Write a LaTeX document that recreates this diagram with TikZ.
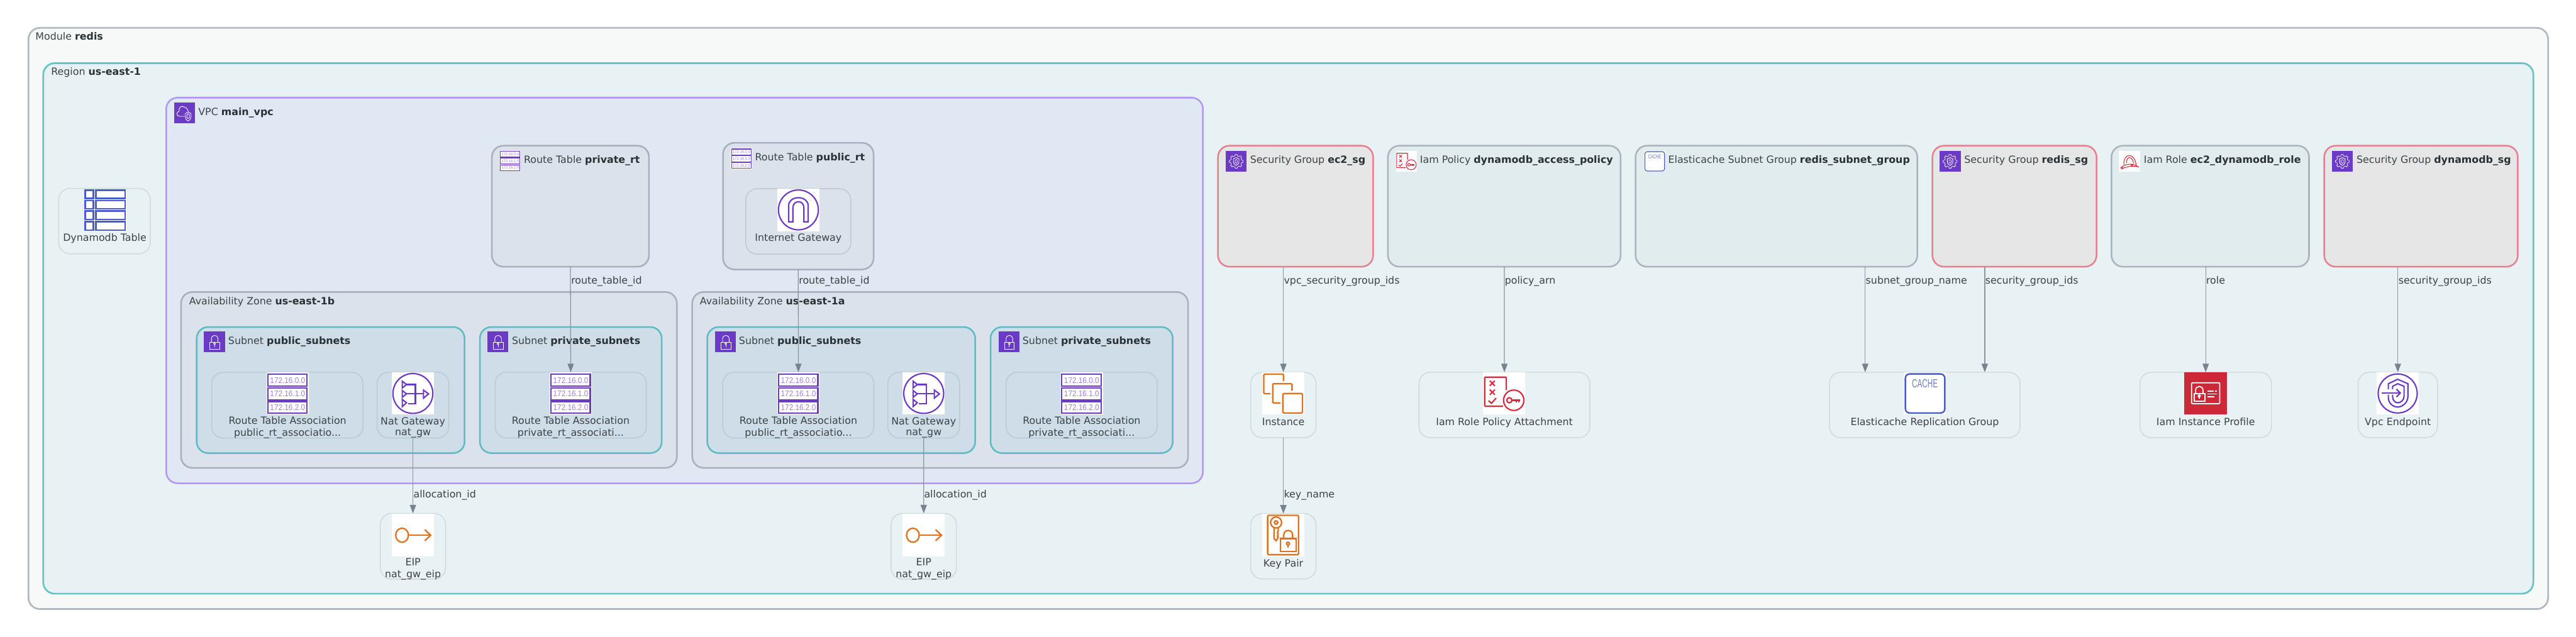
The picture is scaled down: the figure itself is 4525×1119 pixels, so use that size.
\documentclass[tikz,border=0pt]{standalone}
\usepackage{fontspec}
\setmainfont{DejaVu Sans}
\newfontfamily\icfont{Liberation Sans}
\usetikzlibrary{arrows.meta}
\definecolor{txt}{HTML}{3B4346}
\definecolor{txtb}{HTML}{2A3134}
\definecolor{purp}{HTML}{6B3AC7}
\definecolor{iorange}{HTML}{E2711D}
\definecolor{ired}{HTML}{D9293A}
\definecolor{iblue}{HTML}{4A5BD0}
\definecolor{edgec}{HTML}{8A959F}
\definecolor{tipc}{HTML}{77838F}
\newlength\icu
\newcounter{icn}
\def\UL{.3725pt}
\def\US{.185pt}
\newcommand{\bb}[1]{\textcolor{txtb}{\textbf{#1}}}
\newcommand{\ico}[4]{\begin{scope}[shift={(#1,#2)},x=#3,y=-#3]\setlength{\icu}{#3}#4\end{scope}}
\newcommand{\bx}[6]{\node[#2,anchor=north west,inner sep=0pt,outer sep=0pt,minimum width=\fpeval{(#5-#3)*0.5}pt,minimum height=\fpeval{(#6-#4)*0.5}pt] (#1) at (#3,#4) {};}
\tikzset{
  modbox/.style={draw=ADBc,fill=FMod,line width=1.5pt,rounded corners=10pt},
  regbox/.style={draw=RegS,fill=RegF,line width=1.5pt,rounded corners=10pt},
  vpcbox/.style={draw=VpcS,fill=VpcF,line width=1.4pt,rounded corners=10pt},
  grybox/.style={draw=GryS,fill=GryF,line width=1.4pt,rounded corners=10pt},
  subbox/.style={draw=SubS,fill=SubF,line width=1.4pt,rounded corners=10pt},
  sgbox/.style={draw=SgS,fill=SgF,line width=1.4pt,rounded corners=10pt},
  resbox/.style={draw=ResS,fill=ResF,line width=1.4pt,rounded corners=10pt},
  nodein/.style={draw=NdS,line width=.8pt,rounded corners=10pt},
  nodereg/.style={draw=NdR,line width=.8pt,rounded corners=10pt},
  lab/.style={anchor=base west,inner sep=0pt,text=txt,font=\fontsize{8.75pt}{9.35pt}\selectfont,yshift=-3.25pt},
  nlab/.style={anchor=base,inner sep=0pt,text=txt,font=\fontsize{8.75pt}{9.35pt}\selectfont,yshift=-3.25pt},
  nlab2/.style={anchor=center,align=center,inner sep=0pt,text=txt,font=\fontsize{8.75pt}{9.35pt}\selectfont},
  edge/.style={draw=edgec,line width=.7pt,-{Triangle[length=7.5pt,width=5.5pt,color=tipc]}},
  pl/.style={draw=purp,line width=3.2\icu},
  wl/.style={draw=white,line width=2.6\icu},
  ol/.style={draw=iorange,line width=3.4\icu},
  rl/.style={draw=ired,line width=3.2\icu},
  bl/.style={draw=iblue,line width=3.6\icu},
}
\definecolor{ADBc}{HTML}{B2B9C0}\definecolor{FMod}{HTML}{F7F9F8}
\definecolor{RegS}{HTML}{62C6C6}\definecolor{RegF}{HTML}{E8F1F3}
\definecolor{VpcS}{HTML}{B197F2}\definecolor{VpcF}{HTML}{E0E8F3}
\definecolor{GryS}{HTML}{A9B0BD}\definecolor{GryF}{HTML}{DBE2EC}
\definecolor{SubS}{HTML}{5CBCC4}\definecolor{SubF}{HTML}{CFDDE8}
\definecolor{SgS}{HTML}{E6808F}\definecolor{SgF}{HTML}{E6E6E6}
\definecolor{ResS}{HTML}{A9B5BD}\definecolor{ResF}{HTML}{E0ECEE}
\definecolor{NdS}{HTML}{BCC8D4}\definecolor{NdR}{HTML}{CCDADB}
% ---- icons, drawn in a 100x100 frame, y downwards
\newcommand{\ICrt}{\fill[white] (0,0) rectangle (100,100);
  \draw[pl] (3,5) rectangle (96,33);\draw[pl] (3,37) rectangle (96,65);\draw[pl] (3,69) rectangle (96,97);
  \foreach \yy/\tt in {19/172.16.0.0,51/172.16.1.0,83/172.16.2.0}{\stepcounter{icn}
    \node[inner sep=0pt,text=purp!65,xscale=.92,transform shape,font=\icfont\fontsize{19\icu}{19\icu}\selectfont] (rtip\arabic{icn}) at (50,\yy) {\tt};}}
\newcommand{\ICnat}{\fill[white] (0,0) rectangle (100,100);
  \draw[pl] (50,50) circle[radius=47];
  \draw[pl] (25,21) -- (35,29) -- (25,37) -- cycle;
  \draw[pl] (25,43) -- (35,51) -- (25,59) -- cycle;
  \draw[pl] (25,64) -- (35,72) -- (25,81) -- cycle;
  \draw[pl] (35,29) -- (56,29) -- (56,74) -- (39,74);
  \draw[pl] (35,51) -- (75,51);
  \draw[pl] (75,42) -- (87,51) -- (75,61) -- cycle;}
\newcommand{\ICeip}{\fill[white] (0,0) rectangle (100,100);
  \draw[ol] (24.5,50) circle[x radius=15,y radius=16.5];
  \draw[ol] (40,50) -- (91,50);
  \draw[ol] (78,37) -- (92,50) -- (78,63);}
\newcommand{\ICigw}{\fill[white] (0,0) rectangle (100,100);
  \draw[pl] (50,50) circle[radius=47];
  \draw[pl] (27,78) -- (27,40) .. controls (27,15) and (73,15) .. (73,40) -- (73,78) -- (63,78) -- (63,45) .. controls (63,26) and (37,26) .. (37,45) -- (37,78) -- cycle;}
\newcommand{\IClock}{\fill[purp] (0,0) rectangle (100,100);
  \draw[wl] (28,52) rectangle (75,84);
  \draw[wl] (36,52) -- (36,36) .. controls (36,14) and (67,14) .. (67,36) -- (67,52);
  \draw[wl] (51,59) circle[radius=4.5];\draw[wl] (51,63) -- (51,74);}
\newcommand{\ICvpc}{\fill[purp] (0,0) rectangle (100,100);
  \draw[wl] (50,66) -- (27,66) .. controls (10,66) and (8,46) .. (23,42) .. controls (20,24) and (36,12) .. (48,22) .. controls (58,24) and (65,34) .. (67,44);
  \draw[wl] (53,52) -- (66,46) -- (80,52) -- (80,70) .. controls (80,80) and (72,85) .. (66,88) .. controls (60,85) and (53,80) .. (53,70) -- cycle;
  \draw[wl] (66,54) .. controls (61,54) and (60,58) .. (60,62) -- (60,70) .. controls (60,78) and (72,78) .. (72,70) -- (72,62) .. controls (72,58) and (71,54) .. (66,54) -- cycle;}
\newcommand{\ICsg}{\fill[purp] (0,0) rectangle (100,100);
  \begin{scope}[shift={(50,50)}]
  \foreach \a in {0,45,...,315}{
    \draw[draw=white,line width=2\icu] (\a-12:27) -- (\a-8:33) -- (\a+8:33) -- (\a+12:27) -- (\a+33:27);}
  \end{scope}
  \draw[wl] (50,32) -- (63,38) -- (63,54) .. controls (63,62) and (55,67) .. (50,69) .. controls (45,67) and (37,62) .. (37,54) -- (37,38) -- cycle;
  \draw[draw=white,line width=2\icu] (50,41) .. controls (46,41) and (45,45) .. (45,48) -- (45,55) .. controls (45,61) and (55,61) .. (55,55) -- (55,48) .. controls (55,45) and (54,41) .. (50,41) -- cycle;}
\newcommand{\ICpol}{\fill[white] (0,0) rectangle (100,100);
  \draw[rl,rounded corners=1.5\icu] (55,42) -- (55,11.5) -- (4,11.5) -- (4,80) -- (47,80);
  \draw[rl] (16,20) -- (28,32) (28,20) -- (16,32);
  \draw[rl] (16,41) -- (28,53) (28,41) -- (16,53);
  \draw[rl] (13,67) -- (20,73) -- (31,61);
  \draw[rl] (72.5,66) circle[radius=24];
  \draw[rl] (62,66) circle[radius=6];
  \draw[rl] (68,66) -- (88,66) (78,66) -- (78,71) (84,66) -- (84,71);}
\newcommand{\ICcache}{\fill[white] (0,0) rectangle (100,100);
  \draw[bl,rounded corners=10\icu] (4,4) rectangle (97,96);
  \stepcounter{icn}
  \node[inner sep=0pt,text=iblue!80,xscale=.62,transform shape,font=\icfont\fontsize{28\icu}{28\icu}\selectfont] (cachetext\arabic{icn}) at (50,27) {CACHE};}
\newcommand{\ICrole}{\fill[white] (0,0) rectangle (100,100);
  \draw[rl] (24,66) .. controls (22,40) and (32,22) .. (50,22) .. controls (68,22) and (80,44) .. (82,70);
  \draw[rl] (36,58) .. controls (36,42) and (42,32) .. (50,32) .. controls (60,32) and (68,46) .. (70,60);
  \draw[rl] (12,78) .. controls (30,60) and (70,58) .. (92,76) .. controls (70,72) and (40,72) .. (18,84);
  \draw[rl] (14,81) circle[radius=5];\draw[rl] (62,68) circle[radius=4];}
\newcommand{\ICinst}{\fill[white] (0,0) rectangle (100,100);
  \draw[ol,rounded corners=2\icu] (19.5,50.5) -- (4,50.5) -- (4,4.5) -- (50.5,4.5) -- (50.5,21);
  \draw[ol,rounded corners=2\icu] (43,72.5) -- (25,72.5) -- (25,27) -- (70.5,27) -- (70.5,43.5);
  \draw[ol,rounded corners=2\icu] (49,50) rectangle (95,96);}
\newcommand{\ICkey}{\fill[white] (0,0) rectangle (100,100);
  \draw[ol,rounded corners=3\icu] (13,3) rectangle (86,96);
  \draw[ol] (33,20) circle[radius=13];\draw[ol] (33,20) circle[radius=4];
  \draw[ol] (28,32) -- (28,58) -- (33,63) -- (38,55) -- (36,52) -- (38,48) -- (36,44) -- (38,40) -- (38,32);
  \draw[ol] (43,58) rectangle (80,88);
  \draw[ol] (51,58) -- (51,50) .. controls (51,35) and (72,35) .. (72,50) -- (72,58);
  \draw[ol] (61,70) circle[radius=3.5];\draw[ol] (61,73) -- (61,79);}
\newcommand{\ICprof}{\fill[ired!95!black] (0,0) rectangle (100,100);
  \draw[wl,rounded corners=1.5\icu] (17,25) rectangle (83.5,74);
  \draw[wl] (23,50) rectangle (48,68);
  \draw[wl] (26.5,50) -- (26.5,43) .. controls (26.5,30) and (44,30) .. (44,43) -- (44,50);
  \draw[wl] (35,56) circle[radius=2.5];\draw[wl] (35,58) -- (35,63);
  \draw[wl] (54,45) -- (69,45) (73,45) -- (76,45) (54,51) -- (76,51) (54,57.5) -- (71,57.5);}
\newcommand{\ICvpce}{\fill[white] (0,0) rectangle (100,100);
  \draw[pl] (50,50) circle[radius=46];
  \draw[pl] (28,40) -- (28,27) -- (50,16.5) -- (74,27) -- (74,58) .. controls (74,72) and (60,82) .. (50,82) .. controls (38,82) and (28,72) .. (28,60) -- (28,53);
  \draw[pl] (38,40) -- (38,33) -- (50,27) -- (65,33) -- (65,56) .. controls (65,66) and (57,72) .. (50,72) .. controls (44,72) and (38,66) .. (38,58) -- (38,53);
  \draw[pl] (12,49) -- (55,49);\draw[pl] (47,40) -- (56,49) -- (47,58);}
\newcommand{\ICddb}{\fill[white] (0,0) rectangle (100,100);
  \foreach \ya/\yb in {3/22,27/47,52/72,77/97}{
    \draw[draw=iblue,line width=3.6\icu] (3,\ya) rectangle (22,\yb);
    \draw[draw=iblue,line width=3.6\icu] (28,\ya) rectangle (97,\yb);}}
\begin{document}
\begin{tikzpicture}[x=0.5pt,y=-0.5pt]
\useasboundingbox (0,0) rectangle (4525,1119);
\fill[white] (0,0) rectangle (4525,1119);
% clusters
\bx{module}{modbox}{50}{49}{4476}{1070}
\bx{region}{regbox}{76}{111}{4450}{1043}
\bx{vpc}{vpcbox}{292}{171.5}{2113}{849}
\bx{privatert}{grybox}{864}{256}{1140}{468.5}
\bx{publicrt}{grybox}{1270}{251}{1534.5}{473.4}
\bx{azb}{grybox}{318}{513}{1189}{822}
\bx{aza}{grybox}{1216}{513}{2087}{822}
\bx{subpubb}{subbox}{345.5}{574.5}{816}{796}
\bx{subprib}{subbox}{843}{574.5}{1162.4}{796}
\bx{subpuba}{subbox}{1242.4}{574.5}{1713}{796}
\bx{subpria}{subbox}{1740}{574.5}{2060}{796}
\bx{ecsg}{sgbox}{2139.5}{256}{2412}{468.5}
\bx{iampol}{resbox}{2438}{256}{2846.8}{468.5}
\bx{ecsub}{resbox}{2873}{256}{3368}{468.5}
\bx{redissg}{sgbox}{3394.5}{256}{3682.7}{468.5}
\bx{iamrole}{resbox}{3709}{256}{4056}{468.5}
\bx{ddbsg}{sgbox}{4082.7}{256}{4422.7}{468.5}
% resource nodes
\bx{ddb}{nodereg}{103}{331}{264}{446}
\bx{igw}{nodein}{1310}{331.5}{1494.5}{446.5}
\bx{rtapubb}{nodein}{372}{654}{637.6}{769.5}
\bx{natb}{nodein}{662.4}{654}{788.4}{769.5}
\bx{rtaprib}{nodein}{869.7}{654}{1135.3}{769.5}
\bx{rtapuba}{nodein}{1269.7}{654}{1535.1}{769.5}
\bx{nata}{nodein}{1559.6}{654}{1685.6}{769.5}
\bx{rtapria}{nodein}{1767.3}{654}{2032.7}{769.5}
\bx{eipb}{nodereg}{668}{902}{782.8}{1017.4}
\bx{eipa}{nodereg}{1565.2}{902}{1680}{1017.4}
\bx{inst}{nodereg}{2197}{654}{2311.7}{769}
\bx{keypair}{nodereg}{2197}{902.3}{2311.7}{1017}
\bx{attach}{nodereg}{2492.5}{654}{2792.7}{769}
\bx{erg}{nodereg}{3213.6}{654}{3548.6}{769}
\bx{prof}{nodereg}{3759}{654}{3990}{769}
\bx{vpce}{nodereg}{4142.3}{654}{4281.7}{769}
% icons
\ico{306}{180}{\US}{\ICvpc}
\ico{878}{264}{\US}{\ICrt}
\ico{1284}{260}{\US}{\ICrt}
\ico{358}{582}{\US}{\IClock}
\ico{856}{582}{\US}{\IClock}
\ico{1256}{582}{\US}{\IClock}
\ico{1754}{582}{\US}{\IClock}
\ico{2153}{265}{\US}{\ICsg}
\ico{2452}{265}{\US}{\ICpol}
\ico{2888}{265}{\US}{\ICcache}
\ico{3407}{265}{\US}{\ICsg}
\ico{3722}{265}{\US}{\ICrole}
\ico{4096}{265}{\US}{\ICsg}
\ico{147.5}{332}{\UL}{\ICddb}
\ico{468}{654}{\UL}{\ICrt}
\ico{688}{654}{\UL}{\ICnat}
\ico{965.3}{654}{\UL}{\ICrt}
\ico{1365.2}{331.5}{\UL}{\ICigw}
\ico{1365.2}{654}{\UL}{\ICrt}
\ico{1585.3}{654}{\UL}{\ICnat}
\ico{1862.7}{654}{\UL}{\ICrt}
\ico{688}{903}{\UL}{\ICeip}
\ico{1585.3}{903}{\UL}{\ICeip}
\ico{2217}{654}{\UL}{\ICinst}
\ico{2217}{903}{\UL}{\ICkey}
\ico{2605}{654}{\UL}{\ICpol}
\ico{3344}{654}{\UL}{\ICcache}
\ico{3837}{654}{\UL}{\ICprof}
\ico{4174.5}{654}{\UL}{\ICvpce}
% cluster labels
\node[lab] (lmodule) at (62,64) {Module \bb{redis}};
\node[lab] (lregion) at (89.5,126) {Region \bb{us-east-1}};
\node[lab] (lvpc) at (348,196) {VPC \bb{main\_vpc}};
\node[lab] (lprivatert) at (920,280) {Route Table \bb{private\_rt}};
\node[lab] (lpublicrt) at (1326,276) {Route Table \bb{public\_rt}};
\node[lab] (lazb) at (332,529) {Availability Zone \bb{us-east-1b}};
\node[lab] (laza) at (1229,529) {Availability Zone \bb{us-east-1a}};
\node[lab] (lsubpubb) at (400.6,598) {Subnet \bb{public\_subnets}};
\node[lab] (lsubprib) at (899,598) {Subnet \bb{private\_subnets}};
\node[lab] (lsubpuba) at (1297.6,598) {Subnet \bb{public\_subnets}};
\node[lab] (lsubpria) at (1795.8,598) {Subnet \bb{private\_subnets}};
\node[lab] (lecsg) at (2195.7,280) {Security Group \bb{ec2\_sg}};
\node[lab] (liampol) at (2494,280) {Iam Policy \bb{dynamodb\_access\_policy}};
\node[lab] (lecsub) at (2930,280) {Elasticache Subnet Group \bb{redis\_subnet\_group}};
\node[lab] (lredissg) at (3450,280) {Security Group \bb{redis\_sg}};
\node[lab] (liamrole) at (3765.5,280) {Iam Role \bb{ec2\_dynamodb\_role}};
\node[lab] (lddbsg) at (4139,280) {Security Group \bb{dynamodb\_sg}};
% node labels
\node[nlab] (lddb) at (184,417) {Dynamodb Table};
\node[nlab] (ligw) at (1402.3,417.5) {Internet Gateway};
\node[nlab2] (lrtapubb) at (505,752) {\strut Route Table Association\\\strut public\_rt\_associatio...};
\node[nlab2] (lnatb) at (725.4,752) {\strut Nat Gateway\\\strut nat\_gw};
\node[nlab2] (lrtaprib) at (1002.5,752) {\strut Route Table Association\\\strut private\_rt\_associati...};
\node[nlab2] (lrtapuba) at (1402.4,752) {\strut Route Table Association\\\strut public\_rt\_associatio...};
\node[nlab2] (lnata) at (1622.6,752) {\strut Nat Gateway\\\strut nat\_gw};
\node[nlab2] (lrtapria) at (1900,752) {\strut Route Table Association\\\strut private\_rt\_associati...};
\node[nlab2] (leipb) at (725.4,1000) {\strut EIP\\\strut nat\_gw\_eip};
\node[nlab2] (leipa) at (1622.6,1000) {\strut EIP\\\strut nat\_gw\_eip};
\node[nlab] (linst) at (2254.3,741) {Instance};
\node[nlab] (lkeypair) at (2254.3,989) {Key Pair};
\node[nlab] (lattach) at (2642.6,741) {Iam Role Policy Attachment};
\node[nlab] (lerg) at (3381,741) {Elasticache Replication Group};
\node[nlab] (lprof) at (3874.5,741) {Iam Instance Profile};
\node[nlab] (lvpce) at (4212,741) {Vpc Endpoint};
% connectors
\coordinate (cA) at (3276.4,0);
\coordinate (cB) at (3486.4,0);
\draw[edge] (privatert.south) -- (rtaprib.north);
\draw[edge] (publicrt.south) -- (rtapuba.north);
\draw[edge] (natb.south) -- (eipb.north);
\draw[edge] (nata.south) -- (eipa.north);
\draw[edge] (ecsg.south -| inst.north) -- (inst.north);
\draw[edge] (inst.south) -- (keypair.north);
\draw[edge] (iampol.south) -- (attach.north);
\draw[edge] (ecsub.south -| cA) -- (erg.north -| cA);
\draw[edge] (redissg.south -| cB) -- (erg.north -| cB);
\draw[edge] (iamrole.south -| prof.north) -- (prof.north);
\draw[edge] (ddbsg.south -| vpce.north) -- (vpce.north);
% connector labels
\node[lab] (e1) at (1003,492) {route\_table\_id};
\node[lab] (e2) at (1403,492) {route\_table\_id};
\node[lab] (e3) at (726,868) {allocation\_id};
\node[lab] (e4) at (1623,868) {allocation\_id};
\node[lab] (e5) at (2255,492) {vpc\_security\_group\_ids};
\node[lab] (e6) at (2255,868) {key\_name};
\node[lab] (e7) at (2643,492) {policy\_arn};
\node[lab] (e8) at (3277,492) {subnet\_group\_name};
\node[lab] (e9) at (3487,492) {security\_group\_ids};
\node[lab] (e10) at (3875,492) {role};
\node[lab] (e11) at (4213,492) {security\_group\_ids};
\end{tikzpicture}
\end{document}
